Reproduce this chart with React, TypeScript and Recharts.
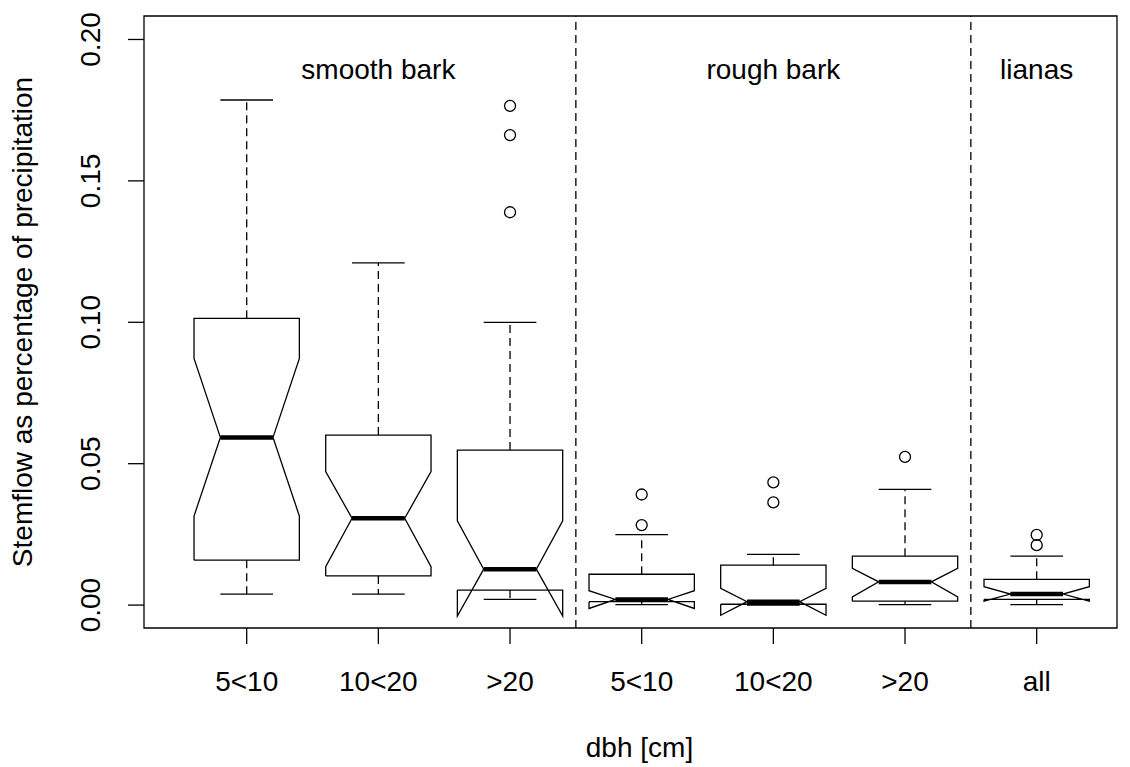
import {
  ComposedChart, Line, Scatter, XAxis, YAxis,
  ReferenceLine, ReferenceArea, ReferenceDot,
} from "recharts";

// dbh classes, one box each (smooth bark x3, rough bark x3, lianas)
const groups = ["5<10", "10<20", ">20", "5<10", "10<20", ">20", "all"];

// box statistics
const lowerWhisker = [0.0039, 0.0039, 0.0020, 0.0002, 0.0000, 0.0002, 0.0002];
const lowerHinge = [0.0159, 0.0103, 0.0053, 0.0012, 0.0003, 0.0014, 0.0020];
const notchLow = [0.0315, 0.0136, -0.0039, -0.0012, -0.0036, 0.0029, 0.0014];
const medians = [0.0593, 0.0307, 0.0127, 0.0020, 0.0012, 0.0082, 0.0039];
const notchHigh = [0.0872, 0.0472, 0.0298, 0.0051, 0.0059, 0.0130, 0.0065];
const upperHinge = [0.1014, 0.0601, 0.0548, 0.0109, 0.0141, 0.0173, 0.0091];
const upperWhisker = [0.1786, 0.1210, 0.1000, 0.0249, 0.0179, 0.0409, 0.0173];
const outliers = [
  [],
  [],
  [0.1389, 0.1662, 0.1765],
  [0.0283, 0.0391],
  [0.0363, 0.0434],
  [0.0524],
  [0.0212, 0.0248],
];

const barkTypes = ["smooth bark", "rough bark", "lianas"];
const barkCentres = [2, 5, 7];
const dividers = [3.5, 6.5];
const yTicks = [0, 0.05, 0.1, 0.15, 0.2];

const X_DOMAIN: [number, number] = [0.22, 7.61];
const Y_DOMAIN: [number, number] = [-0.0081, 0.2083];
const FONT = "'Liberation Sans', Arial, sans-serif";
const BOX = 0.4; // half box width
const NOTCH = 0.2; // half notch / staple width
const LW = 1.3;

const outlierPoints = outliers.flatMap((vals, i) => vals.map((y) => ({ x: i + 1, y })));

const YTick = ({ x, y, payload }: any) => {
  const tx = x - 26;
  return (
    <text x={tx} y={y} transform={`rotate(-90 ${tx} ${y})`} textAnchor="middle"
      fontSize={28} fontFamily={FONT} fill="#000">
      {Number(payload.value).toFixed(2)}
    </text>
  );
};

const XTick = ({ x, y, payload }: any) => (
  <text x={x} y={y + 45} textAnchor="middle" fontSize={28} fontFamily={FONT} fill="#000">
    {groups[Math.round(payload.value) - 1]}
  </text>
);

const YTitle = ({ viewBox }: any) => {
  const tx = 32;
  const ty = viewBox.y + viewBox.height / 2;
  return (
    <text x={tx} y={ty} transform={`rotate(-90 ${tx} ${ty})`} textAnchor="middle"
      fontSize={28} fontFamily={FONT} fill="#000">
      Stemflow as percentage of precipitation
    </text>
  );
};

// R centres xlab a little right of the visible box here
const XTitle = ({ viewBox }: any) => (
  <text x={viewBox.x + viewBox.width / 2 + 9} y={757} textAnchor="middle"
    fontSize={28} fontFamily={FONT} fill="#000">
    dbh [cm]
  </text>
);

const regionLabel = (text: string) => ({ viewBox }: any) => (
  <text x={viewBox.x + viewBox.width / 2} y={viewBox.y + viewBox.height / 2}
    textAnchor="middle" fontSize={28} fontFamily={FONT} fill="#000">
    {text}
  </text>
);

const Circle = ({ cx, cy }: any) => (
  <circle cx={cx} cy={cy} r={5.5} fill="none" stroke="#000" strokeWidth={LW} />
);

const seg = (key: string, pts: { x: number; y: number }[], extra: any = {}) => (
  <Line
    key={key}
    data={pts}
    dataKey="y"
    type="linear"
    stroke="#000"
    strokeWidth={LW}
    dot={false}
    activeDot={false}
    isAnimationActive={false}
    {...extra}
  />
);

const App = () => {
  const series = groups.flatMap((_, i) => {
    const x = i + 1;
    const outline = [
      { x: x - BOX, y: lowerHinge[i] },
      { x: x - BOX, y: notchLow[i] },
      { x: x - NOTCH, y: medians[i] },
      { x: x - BOX, y: notchHigh[i] },
      { x: x - BOX, y: upperHinge[i] },
      { x: x + BOX, y: upperHinge[i] },
      { x: x + BOX, y: notchHigh[i] },
      { x: x + NOTCH, y: medians[i] },
      { x: x + BOX, y: notchLow[i] },
      { x: x + BOX, y: lowerHinge[i] },
      { x: x - BOX, y: lowerHinge[i] },
    ];
    return [
      seg(`wu${i}`, [{ x, y: upperHinge[i] }, { x, y: upperWhisker[i] }], { strokeDasharray: "8 5" }),
      seg(`wl${i}`, [{ x, y: lowerHinge[i] }, { x, y: lowerWhisker[i] }], { strokeDasharray: "8 5" }),
      seg(`cu${i}`, [{ x: x - NOTCH, y: upperWhisker[i] }, { x: x + NOTCH, y: upperWhisker[i] }]),
      seg(`cl${i}`, [{ x: x - NOTCH, y: lowerWhisker[i] }, { x: x + NOTCH, y: lowerWhisker[i] }]),
      seg(`box${i}`, outline),
      seg(`med${i}`, [{ x: x - NOTCH, y: medians[i] }, { x: x + NOTCH, y: medians[i] }], { strokeWidth: 4.5 }),
    ];
  });

  return (
    <div style={{ position: "absolute", left: 0, top: 0, background: "#fff" }}>
      <ComposedChart width={1130} height={767} margin={{ top: 16, right: 13, bottom: 0, left: 0 }}>
        <XAxis
          dataKey="x"
          type="number"
          domain={X_DOMAIN}
          allowDataOverflow
          ticks={[1, 2, 3, 4, 5, 6, 7]}
          tick={<XTick />}
          tickSize={16}
          tickLine={{ stroke: "#000", strokeWidth: LW }}
          axisLine={false}
          height={139}
          label={<XTitle />}
        />
        <YAxis
          dataKey="y"
          type="number"
          domain={Y_DOMAIN}
          allowDataOverflow
          ticks={yTicks}
          tick={<YTick />}
          tickSize={16}
          tickLine={{ stroke: "#000", strokeWidth: LW }}
          axisLine={false}
          width={144}
          label={<YTitle />}
        />
        <ReferenceArea
          x1={X_DOMAIN[0]} x2={X_DOMAIN[1]} y1={Y_DOMAIN[0]} y2={Y_DOMAIN[1]}
          fill="none" fillOpacity={0} stroke="#000" strokeWidth={LW}
        />
        {dividers.map((d) => (
          <ReferenceLine key={d} x={d} stroke="#000" strokeWidth={LW} strokeDasharray="8 5" />
        ))}
        {barkTypes.map((t, i) => (
          <ReferenceDot key={t} x={barkCentres[i]} y={0.186} r={1} fill="none" stroke="none"
            label={regionLabel(t)} />
        ))}
        {series}
        <Scatter data={outlierPoints} dataKey="y" shape={<Circle />} isAnimationActive={false} />
      </ComposedChart>
    </div>
  );
};

export default App;
